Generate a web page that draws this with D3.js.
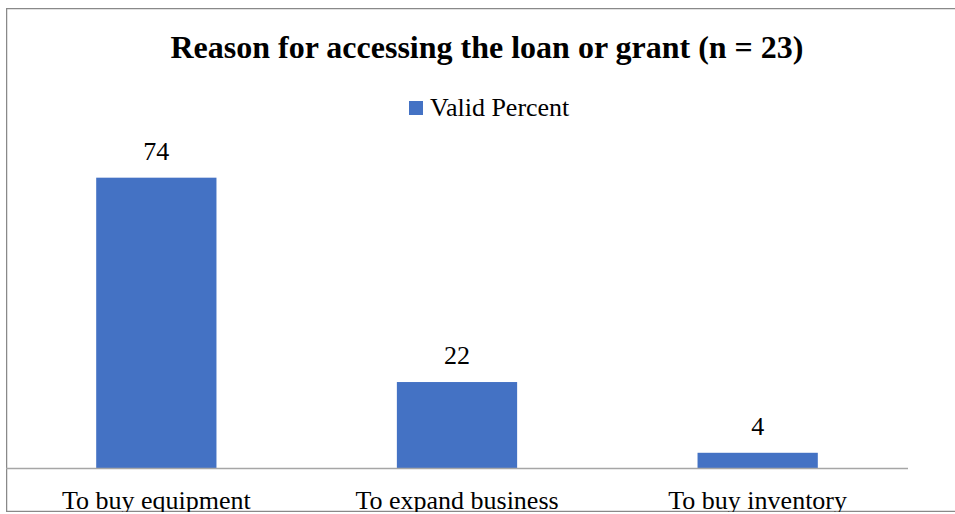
<!DOCTYPE html>
<html>
<head>
<meta charset="utf-8">
<script src="https://cdn.jsdelivr.net/npm/d3@7"></script>
<style>
  body { margin: 0; background: #fff; }
  text { font-family: "Liberation Serif", "Times New Roman", serif; fill: #000; }
</style>
</head>
<body>
<div id="root"></div>
<script>
const categories = ["To buy equipment", "To expand business", "To buy inventory"];
const validPercent = [74, 22, 4];
const seriesName = "Valid Percent";
const title = "Reason for accessing the loan or grant (n = 23)";

const W = 955, H = 514;
const svg = d3.select("#root").append("svg")
  .attr("width", W).attr("height", H);

// chart area (runs past the right edge of the picture)
const box = { x: 6, y: 8, w: 962, h: 504 };

svg.append("defs").append("clipPath").attr("id", "chart-clip")
  .append("rect")
  .attr("x", box.x).attr("y", box.y)
  .attr("width", box.w).attr("height", box.h);

const chart = svg.append("g").attr("clip-path", "url(#chart-clip)");

chart.append("rect")
  .attr("x", box.x + 0.5).attr("y", box.y + 0.5)
  .attr("width", box.w).attr("height", box.h - 1)
  .attr("fill", "#fff")
  .attr("stroke", "#898989")
  .attr("stroke-width", 1.5);

chart.append("text")
  .attr("x", 487).attr("y", 58)
  .attr("text-anchor", "middle")
  .style("font-size", "32px")
  .style("font-weight", "bold")
  .text(title);

// legend
const leg = chart.append("g").attr("transform", "translate(409,101)");
leg.append("rect").attr("width", 14).attr("height", 14).attr("fill", "#4472C4");
leg.append("text").attr("x", 21).attr("y", 15)
  .style("font-size", "26px").text(seriesName);

const plotLeft = 6, plotRight = 908, baseY = 468.5;

const x = d3.scaleBand()
  .domain(categories)
  .range([plotLeft, plotRight])
  .paddingInner(0.6)
  .paddingOuter(0.3);

const y = d3.scaleLinear()
  .domain([0, 80])
  .range([baseY, baseY - 80 * 3.93]);

chart.append("g")
  .selectAll("rect")
  .data(validPercent)
  .enter()
  .append("rect")
  .attr("x", (d, i) => x(categories[i]))
  .attr("y", d => y(d))
  .attr("width", x.bandwidth())
  .attr("height", d => baseY - y(d))
  .attr("fill", "#4472C4");

chart.append("g")
  .selectAll("text")
  .data(validPercent)
  .enter()
  .append("text")
  .attr("x", (d, i) => x(categories[i]) + x.bandwidth() / 2)
  .attr("y", d => y(d) - 18)
  .attr("text-anchor", "middle")
  .style("font-size", "26px")
  .text(d => d);

// x axis
const xAxis = chart.append("g")
  .attr("transform", "translate(0," + baseY + ")")
  .call(d3.axisBottom(x).tickSize(0).tickPadding(0));
xAxis.select(".domain").attr("stroke", "#a6a6a6").attr("stroke-width", 1.5)
  .attr("d", "M" + plotLeft + ",0H" + plotRight);
xAxis.selectAll(".tick text")
  .attr("dy", 0)
  .attr("y", 40)
  .style("font-size", "26px")
  .style("font-family", "'Liberation Serif', 'Times New Roman', serif")
  .attr("fill", "#000");
</script>
</body>
</html>
